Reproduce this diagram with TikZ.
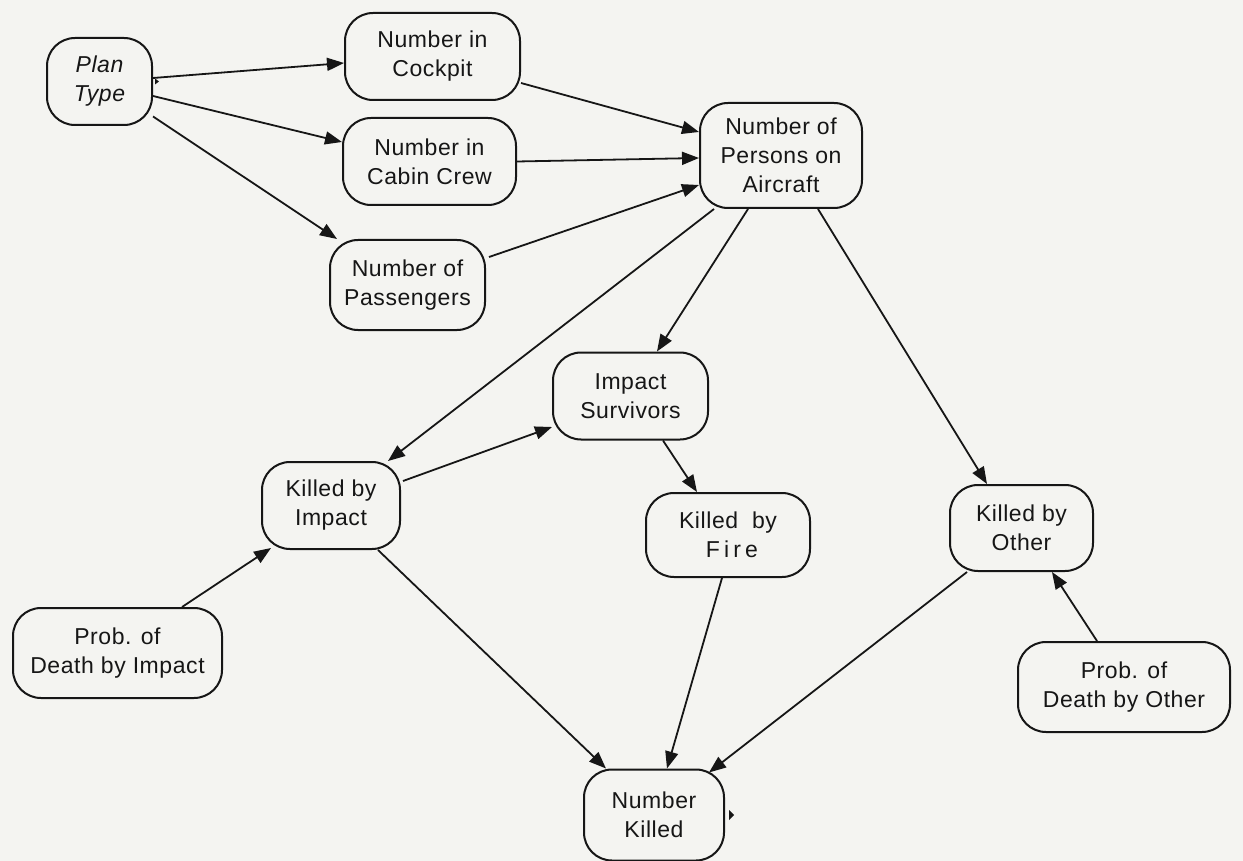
\documentclass[tikz,border=0pt]{standalone}
\usepackage{fontspec}
\setmainfont[LetterSpace=2.5]{Liberation Sans}
\usetikzlibrary{arrows.meta}
\definecolor{paper}{RGB}{244,244,241}
\definecolor{ink}{RGB}{22,22,22}
\begin{document}
\begin{tikzpicture}[x=1pt,y=-1pt,
  box/.style={draw=ink, line width=2pt, rounded corners=28pt, align=center,
    inner sep=0pt, text=ink, font=\fontsize{23}{29}\selectfont},
  link/.style={draw=ink, line width=1.8pt, -{Triangle[length=17pt,width=13pt]}},
  valuetick/.style={fill=ink}]
% paper
\fill[paper] (0,0) rectangle (1243,861);
\useasboundingbox (0,0) rectangle (1243,861);

% nodes
\node[box, minimum width=105pt, minimum height=87pt,
  font=\fontsize{23}{29}\selectfont\itshape] (pt) at (99.5,81.5) {Plan\\Type};
\node[box, minimum width=175pt, minimum height=87pt] (cp) at (432.5,56.5) {Number in\\Cockpit};
\node[box, minimum width=173pt, minimum height=87pt] (cc) at (429.5,161.5) {Number in\\Cabin Crew};
\node[box, minimum width=155pt, minimum height=90pt] (pa) at (407.5,285) {Number of\\Passengers};
\node[box, minimum width=162pt, minimum height=105pt] (pe) at (781,155.5) {Number of\\Persons on\\Aircraft};
\node[box, minimum width=155pt, minimum height=87pt] (is) at (630.5,396) {Impact\\Survivors};
\node[box, minimum width=138pt, minimum height=87pt] (ki) at (331,505.5) {Killed by\\Impact};
\node[box, minimum width=164pt, minimum height=84pt] (kf) at (728,535) {Killed\ \ by\\\hspace*{8pt}{\addfontfeature{LetterSpace=18}Fire}};
\node[box, minimum width=143pt, minimum height=86pt] (ko) at (1021.5,528) {Killed by\\Other};
\node[box, minimum width=209pt, minimum height=90pt] (pi) at (117.5,653) {Prob. of\\Death by Impact};
\node[box, minimum width=212pt, minimum height=90pt] (po) at (1124,687) {Prob. of\\Death by Other};
\node[box, minimum width=140pt, minimum height=91pt] (nk) at (654,815) {Number\\Killed};

% small value ticks
\fill[valuetick] ([xshift=2pt,yshift=3pt]pt.east) -- ++(4,3) -- ++(-4,3) -- cycle;
\fill[valuetick] ([xshift=4pt]nk.east) -- ++(0,-5) -- ++(5,5) -- ++(-5,5) -- cycle;

% connectors
\draw[link] ([yshift=3.5pt]pt.east) -- ([yshift=-6.5pt]cp.west);
\draw[link] ([yshift=-14.5pt]pt.east) -- ([yshift=19.5pt]cc.west);
\draw[link] ([yshift=-35pt]pt.east) -- ([xshift=8pt]pa.north west);
\draw[link] ([yshift=-26.5pt]cp.east) -- ([yshift=23.5pt]pe.west);
\draw[link] (cc.east) -- ([yshift=-2.5pt]pe.west);
\draw[link] ([xshift=3pt,yshift=28pt]pa.east) -- ([yshift=-29.5pt]pe.west);
\draw[link] ([xshift=15pt]pe.south west) -- ([xshift=-13pt]ki.north east);
\draw[link] ([xshift=-33pt]pe.south) -- ([xshift=26.5pt]is.north);
\draw[link] ([xshift=37pt]pe.south) -- ([xshift=-34.5pt]ko.north);
\draw[link] ([xshift=2pt,yshift=24.5pt]ki.east) -- ([yshift=-31pt]is.west);
\draw[link] ([xshift=32.5pt]is.south) -- ([xshift=-31pt]kf.north);
\draw[link] ([xshift=64.5pt]pi.north) -- ([xshift=10pt,yshift=2pt]ki.south west);
\draw[link] ([xshift=-27pt]po.north) -- ([xshift=30.5pt]ko.south);
\draw[link] ([xshift=47pt]ki.south) -- ([xshift=23pt]nk.north west);
\draw[link] ([xshift=-6pt]kf.south) -- ([xshift=13pt]nk.north);
\draw[link] ([xshift=-54.5pt]ko.south) -- ([xshift=-16pt,yshift=-4pt]nk.north east);
\end{tikzpicture}
\end{document}
